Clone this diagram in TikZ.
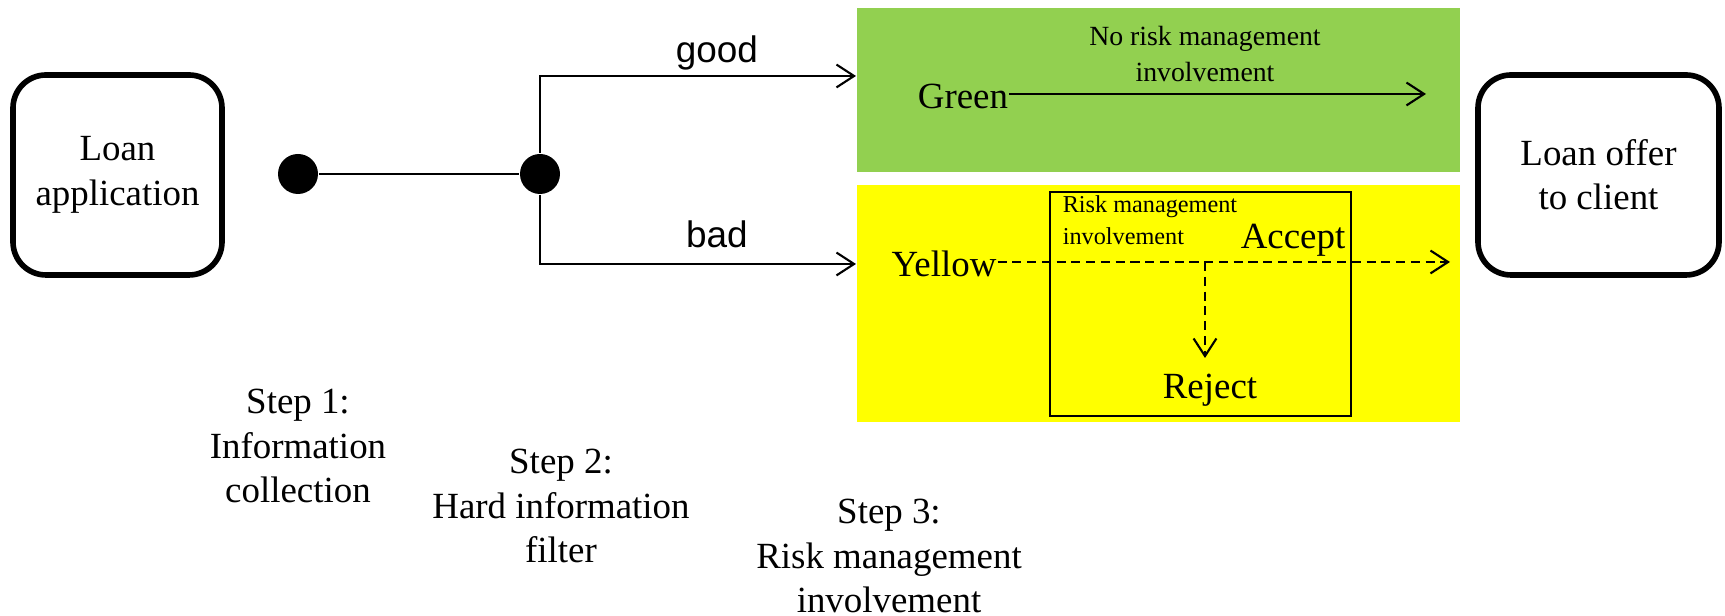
\documentclass[tikz,border=0pt]{standalone}
\usepackage{fontspec}
\setmainfont{Liberation Serif}
\newfontfamily\arialfont{Liberation Sans}
\usetikzlibrary{arrows.meta}
\definecolor{zonegreen}{HTML}{92D050}
\definecolor{zoneyellow}{HTML}{FFFF00}
\tikzset{
  endbox/.style={draw, line width=1.6pt, rounded corners=0.33cm, minimum height=2cm,
    minimum width=#1, align=center},
  dot/.style={circle, fill, inner sep=0pt, minimum size=0.4cm},
  steptext/.style={align=center},
  zonelabel/.style={inner xsep=0pt},
  small/.style={font=\fontsize{7.9}{10}\selectfont},
  tiny/.style={font=\fontsize{6.9}{9}\selectfont},
  branch/.style={font=\arialfont\fontsize{10.5}{12.6}\selectfont},
  flow/.style={line width=0.6pt, dash pattern=on 2.6pt off 1.6pt}
}
\begin{document}
\begin{tikzpicture}[>={Straight Barb[length=5pt,width=6.5pt]}, line width=0.6pt,
    font=\fontsize{10.5}{12.6}\selectfont]
  \useasboundingbox (0,0) rectangle (17.25,6.16);
  % zones
  \fill[zonegreen] (8.57,4.44) rectangle (14.60,6.08);
  \fill[zoneyellow] (8.57,1.94) rectangle (14.60,4.31);
  \draw[line width=0.5pt] (10.50,2.00) rectangle (13.51,4.24);
  % end boxes
  \node[endbox=2.09cm] (app) at (1.175,4.41) {Loan\\application};
  \node[endbox=2.41cm] (offer) at (15.985,4.41) {Loan offer\\to client};
  % filter
  \node[dot] (collect) at (2.98,4.42) {};
  \node[dot] (split) at (5.40,4.42) {};
  \coordinate (goodend) at (8.56,5.40);
  \coordinate (badend) at (8.56,3.52);
  \draw (collect) -- (split);
  \draw[->] (split) |- node[branch, pos=0.78, above=-2pt]{good} (goodend);
  \draw[->] (split) |- node[branch, pos=0.78, above=1pt]{bad} (badend);
  % green
  \node[zonelabel] (green) at (9.63,5.20) {Green};
  \coordinate (greenend) at (14.26,5.22);
  \draw[->] (green.east |- greenend) -- (greenend);
  \node[small, align=center] (norisk) at (12.05,5.62) {No risk management\\involvement};
  % yellow
  \node[zonelabel] (yellow) at (9.44,3.52) {Yellow};
  \coordinate (yellowend) at (14.50,3.54);
  \coordinate (fork) at (12.05,3.54);
  \coordinate (rejend) at (12.05,2.58);
  \draw[->, flow] (yellow.east |- yellowend) -- (yellowend);
  \draw[->, flow] (fork) -- (rejend);
  \node[tiny, align=left, anchor=west] (riskinv) at (10.50,3.96) {Risk management\\involvement};
  \node (accept) at (12.93,3.76) {Accept};
  \node (reject) at (12.10,2.26) {Reject};
  % steps
  \node[steptext] (step1) at (2.98,1.70) {Step 1:\\Information\\collection};
  \node[steptext] (step2) at (5.61,1.10) {Step 2:\\Hard information\\filter};
  \node[steptext] (step3) at (8.89,0.60) {Step 3:\\Risk management\\involvement};
\end{tikzpicture}
\end{document}
